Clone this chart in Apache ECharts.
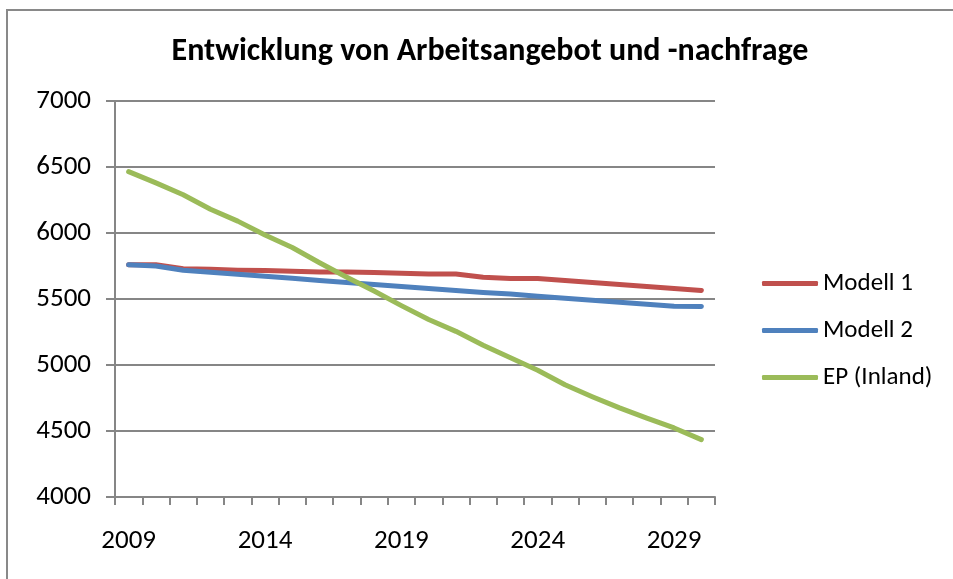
<!DOCTYPE html>
<html>
<head>
<meta charset="utf-8">
<script src="https://cdn.jsdelivr.net/npm/echarts@6/dist/echarts.min.js"></script>
<style>
  html, body { margin: 0; padding: 0; background: #fff; }
  #chart { width: 953px; height: 579px; }
</style>
</head>
<body>
<div id="chart"></div>
<script>
const years = [
  '2009', '2010', '2011', '2012', '2013', '2014', '2015', '2016', '2017', '2018', '2019',
  '2020', '2021', '2022', '2023', '2024', '2025', '2026', '2027', '2028', '2029', '2030',
];
const modell1 = [
  5760, 5760, 5730, 5725, 5718, 5715, 5710, 5705, 5705, 5700, 5695,
  5690, 5690, 5665, 5655, 5655, 5640, 5625, 5610, 5595, 5580, 5565,
];
const modell2 = [
  5760, 5750, 5718, 5703, 5688, 5672, 5657, 5641, 5625, 5610, 5595,
  5580, 5565, 5550, 5537, 5520, 5505, 5490, 5475, 5460, 5445, 5444,
];
const epInland = [
  6465, 6380, 6290, 6180, 6090, 5985, 5890, 5775, 5665, 5560, 5450,
  5345, 5255, 5150, 5055, 4960, 4850, 4760, 4675, 4598, 4523, 4435,
];

const axisGray = '#868686';
const font = 'Calibri, Carlito, Lato, sans-serif';

const chart = echarts.init(document.getElementById('chart'));

function line(name, data, color) {
  return {
    name,
    type: 'line',
    data,
    symbol: 'none',
    lineStyle: { width: 5, color, cap: 'round', join: 'round' },
    itemStyle: { color },
  };
}

chart.setOption({
  animation: false,
  graphic: [
    {
      type: 'rect',
      shape: { x: 7, y: 10, width: 980, height: 600 },
      style: { fill: null, stroke: '#898989', lineWidth: 2 },
      silent: true,
    },
  ],
  title: {
    text: 'Entwicklung von Arbeitsangebot und -nachfrage',
    left: 485,
    textAlign: 'center',
    top: 31,
    textStyle: {
      fontFamily: font,
      fontWeight: 'bold',
      fontSize: 32,
      color: '#000',
    },
  },
  legend: {
    orient: 'vertical',
    left: 757,
    top: 266,
    itemWidth: 56,
    itemHeight: 5,
    itemGap: 22,
    icon: 'roundRect',
    textStyle: { fontFamily: font, fontSize: 25, color: '#000' },
    data: ['Modell 1', 'Modell 2', 'EP (Inland)'],
  },
  grid: { left: 115, right: 238, top: 101, bottom: 82 },
  xAxis: {
    type: 'category',
    data: years,
    boundaryGap: true,
    axisLine: { lineStyle: { color: axisGray, width: 2 } },
    axisTick: { show: true, interval: 0, length: 8, lineStyle: { color: axisGray, width: 2 } },
    axisLabel: {
      interval: 4,
      margin: 31,
      fontFamily: font,
      fontSize: 27,
      color: '#000',
    },
    splitLine: { show: false },
  },
  yAxis: {
    type: 'value',
    min: 4000,
    max: 7000,
    interval: 500,
    axisLine: { show: true, lineStyle: { color: axisGray, width: 2 } },
    axisTick: { show: true, length: 9, lineStyle: { color: axisGray, width: 2 } },
    axisLabel: {
      margin: 24,
      formatter: (v) => String(v),
      fontFamily: font,
      fontSize: 27,
      color: '#000',
    },
    splitLine: { show: true, lineStyle: { color: axisGray, width: 2 } },
  },
  series: [
    line('Modell 1', modell1, '#C0504D'),
    line('Modell 2', modell2, '#4F81BD'),
    line('EP (Inland)', epInland, '#9BBB59'),
  ],
});
</script>
</body>
</html>
